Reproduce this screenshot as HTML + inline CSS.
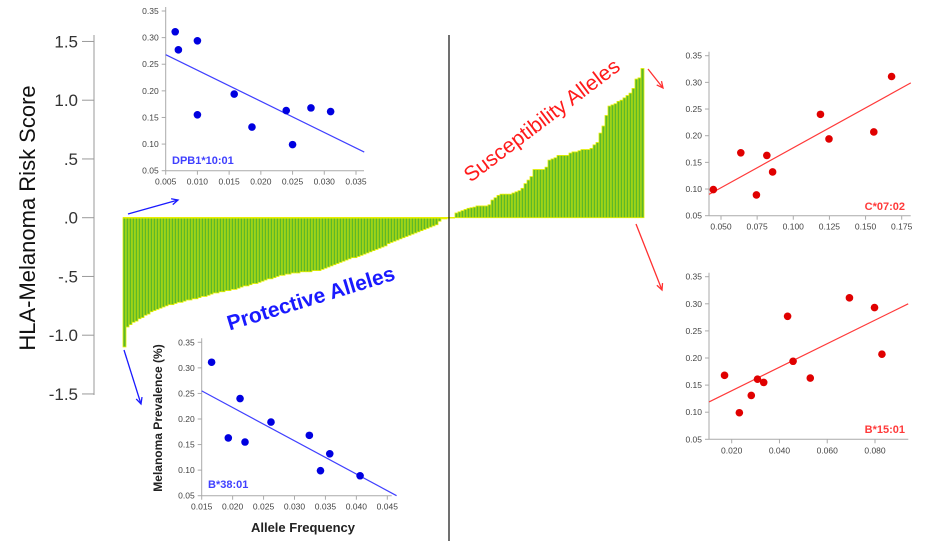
<!DOCTYPE html>
<html><head><meta charset="utf-8"><style>
html,body{margin:0;padding:0;background:#fff;}
svg{display:block;font-family:"Liberation Sans",sans-serif;}
</style></head><body>
<svg id="c" width="934" height="548" viewBox="0 0 934 548"></svg>
<script>
const negScores=[-1.10,-0.93,-0.91,-0.89,-0.88,-0.86,-0.85,-0.83,-0.82,-0.80,-0.79,-0.78,-0.77,-0.76,-0.75,-0.74,-0.74,-0.73,-0.72,-0.72,-0.71,-0.70,-0.70,-0.69,-0.69,-0.68,-0.67,-0.67,-0.66,-0.65,-0.64,-0.64,-0.63,-0.63,-0.62,-0.62,-0.61,-0.61,-0.60,-0.59,-0.58,-0.58,-0.57,-0.56,-0.56,-0.55,-0.54,-0.53,-0.52,-0.52,-0.51,-0.50,-0.49,-0.49,-0.48,-0.48,-0.47,-0.47,-0.47,-0.46,-0.46,-0.46,-0.46,-0.45,-0.45,-0.45,-0.44,-0.43,-0.42,-0.41,-0.40,-0.39,-0.38,-0.37,-0.36,-0.35,-0.34,-0.34,-0.33,-0.32,-0.31,-0.30,-0.29,-0.28,-0.27,-0.26,-0.25,-0.24,-0.22,-0.21,-0.20,-0.19,-0.18,-0.17,-0.16,-0.15,-0.14,-0.13,-0.12,-0.11,-0.10,-0.09,-0.08,-0.07,-0.06,-0.03,-0.01,-0.01];
const posScores=[0.04,0.05,0.06,0.07,0.08,0.085,0.09,0.10,0.10,0.10,0.10,0.11,0.15,0.17,0.19,0.20,0.20,0.20,0.20,0.21,0.22,0.23,0.25,0.29,0.32,0.35,0.41,0.41,0.41,0.41,0.43,0.49,0.50,0.51,0.53,0.53,0.53,0.53,0.55,0.56,0.56,0.57,0.58,0.58,0.58,0.59,0.62,0.64,0.72,0.78,0.87,0.95,0.96,0.97,0.99,1.00,1.02,1.04,1.06,1.10,1.18,1.19,1.27];
const mainTicks=[1.5,1.0,0.5,0,-0.5,-1.0,-1.5];
const mainTickLabels=["1.5","1.0",".5",".0","-.5","-1.0","-1.5"];

const dpbX=[0.0065,0.007,0.010,0.010,0.0158,0.0186,0.024,0.025,0.0279,0.031];
const dpbY=[0.311,0.277,0.294,0.155,0.194,0.132,0.163,0.099,0.168,0.161];
const dpbXTicks=["0.005","0.010","0.015","0.020","0.025","0.030","0.035"];
const b38X=[0.0166,0.0193,0.0212,0.022,0.0262,0.0324,0.0342,0.0357,0.0406];
const b38Y=[0.311,0.163,0.240,0.155,0.194,0.168,0.099,0.132,0.089];
const b38XTicks=["0.015","0.020","0.025","0.030","0.035","0.040","0.045"];
const c07X=[0.0447,0.0637,0.0745,0.0817,0.0857,0.1188,0.1247,0.1557,0.168];
const c07Y=[0.099,0.168,0.089,0.163,0.132,0.240,0.194,0.207,0.311];
const c07XTicks=["0.050","0.075","0.100","0.125","0.150","0.175"];
const b15X=[0.017,0.0232,0.0282,0.0308,0.0334,0.0434,0.0457,0.0529,0.0693,0.0798,0.0829];
const b15Y=[0.168,0.099,0.131,0.161,0.155,0.277,0.194,0.163,0.311,0.293,0.207];
const b15XTicks=["0.020","0.040","0.060","0.080"];
const yTicks=["0.35","0.30","0.25","0.20","0.15","0.10","0.05"];

const svg=document.getElementById('c');
const NS='http://www.w3.org/2000/svg';
function mk(tag,attrs,parent,text){const e=document.createElementNS(NS,tag);for(const k in attrs)e.setAttribute(k,attrs[k]);if(text!==undefined)e.textContent=text;(parent||svg).appendChild(e);return e;}

// main axis
const y0=217.7, ppu=117.5;
const ys=v=>y0-v*ppu;
let e=mk('line',{x1:94,y1:35,x2:94,y2:395,stroke:'#999','stroke-width':1});


mainTicks.forEach((t,i)=>{
  let l=mk('line',{x1:82,y1:ys(t),x2:94,y2:ys(t),stroke:'#999'});
  
  
  let tx=mk('text',{x:78,y:ys(t)+6,'text-anchor':'end','font-size':17,fill:'#333'},svg,mainTickLabels[i]);
  
  
});
e=mk('text',{x:0,y:0,transform:'translate(35,218) rotate(-90)','text-anchor':'middle','font-size':22,fill:'#111'},svg,'HLA-Melanoma Risk Score');



// bars
const bw=3;
negScores.forEach((v,i)=>{
  const b=mk('rect',{x:123+i*bw,y:y0,width:bw,height:-v*ppu,fill:'#5cb82a',stroke:'#e8f000','stroke-width':0.8});
  
  
});
posScores.forEach((v,i)=>{
  const b=mk('rect',{x:455+i*bw,y:ys(v),width:bw,height:v*ppu,fill:'#5cb82a',stroke:'#e8f000','stroke-width':0.8});
  
  
});
e=mk('line',{x1:123,y1:y0,x2:455,y2:y0,stroke:'#e8f000','stroke-width':1.5});



// divider
e=mk('line',{x1:449,y1:35,x2:449,y2:541,stroke:'#111','stroke-width':1.2});



// labels
e=mk('text',{x:0,y:0,transform:'translate(546,126) rotate(-37)','text-anchor':'middle','font-size':21,fill:'#ff1a1a'},svg,'Susceptibility Alleles');


e=mk('text',{x:0,y:0,transform:'translate(313,305) rotate(-17)','text-anchor':'middle','font-size':21,'font-weight':'bold',fill:'#1a1aff'},svg,'Protective Alleles');



// arrows
function arrow(x1,y1,x2,y2,col,name){
  const g=mk('g',{});
  
  
  mk('line',{x1,y1,x2,y2,stroke:col,'stroke-width':1.3},g);
  const a=Math.atan2(y2-y1,x2-x1),L=7;
  mk('polyline',{points:`${x2-L*Math.cos(a-0.45)},${y2-L*Math.sin(a-0.45)} ${x2},${y2} ${x2-L*Math.cos(a+0.45)},${y2-L*Math.sin(a+0.45)}`,fill:'none',stroke:col,'stroke-width':1.3},g);
}
arrow(128,214,178,200,'#1a1aff','arrow-to-dpb1');
arrow(124,350,141,404,'#1a1aff','arrow-to-b3801');
arrow(648,69,663,88,'#ff3030','arrow-to-c0702');
arrow(636,224,662,290,'#ff3030','arrow-to-b1501');

// inset scatter
function inset(o){
  const g=mk('g',{});
  
  
  const xs=v=>o.px0+(v-o.x0)/(o.x1-o.x0)*(o.px1-o.px0);
  const yv=v=>o.py0+(v-0.35)/(0.05-0.35)*(o.py1-o.py0);
  let ax=mk('line',{x1:o.ax,y1:o.py0-4,x2:o.ax,y2:o.py1,stroke:'#aaa'},g);
  
  
  ax=mk('line',{x1:o.ax,y1:o.py1,x2:o.axEnd,y2:o.py1,stroke:'#aaa'},g);
  
  
  yTicks.forEach(t=>{
    const y=yv(parseFloat(t));
    mk('line',{x1:o.ax-4,y1:y,x2:o.ax,y2:y,stroke:'#aaa'},g);
    const tx=mk('text',{x:o.ax-7,y:y+3,'text-anchor':'end','font-size':8.5,fill:'#444'},g,t);
    
    
  });
  o.xt.forEach(t=>{
    const x=xs(parseFloat(t));
    mk('line',{x1:x,y1:o.py1,x2:x,y2:o.py1+4,stroke:'#aaa'},g);
    const tx=mk('text',{x:x,y:o.py1+14,'text-anchor':'middle','font-size':8.5,fill:'#444'},g,t);
    
    
  });
  const fl=mk('line',{x1:xs(o.fit[0]),y1:yv(o.fit[1]),x2:xs(o.fit[2]),y2:yv(o.fit[3]),stroke:o.lc,'stroke-width':1.2},g);
  
  
  o.X.forEach((v,i)=>{
    const p=mk('circle',{cx:xs(v),cy:yv(o.Y[i]),r:3.8,fill:o.pc},g);
    
    
  });
  const lb=mk('text',{x:o.lx,y:o.ly,'text-anchor':o.la,'font-size':11,'font-weight':'bold',fill:o.lc},g,o.label);
  
  
}
inset({name:'inset-dpb1-1001',X:dpbX,Y:dpbY,xt:dpbXTicks,x0:0.005,x1:0.035,px0:165.7,px1:356,py0:11,py1:170.7,ax:165.7,axEnd:364,fit:[0.005,0.268,0.0363,0.085],lc:'#4040ff',pc:'#0000e0',label:'DPB1*10:01',lx:172,ly:164,la:'start'});
inset({name:'inset-b3801',X:b38X,Y:b38Y,xt:b38XTicks,x0:0.015,x1:0.045,px0:201.7,px1:387.3,py0:342.3,py1:495.7,ax:201.7,axEnd:391.7,fit:[0.015,0.255,0.0465,0.05],lc:'#4040ff',pc:'#0000e0',label:'B*38:01',lx:208,ly:488,la:'start'});
inset({name:'inset-c0702',X:c07X,Y:c07Y,xt:c07XTicks,x0:0.05,x1:0.175,px0:721,px1:901.7,py0:55.7,py1:215.7,ax:709,axEnd:910.7,fit:[0.0417,0.09,0.1813,0.299],lc:'#ff3a3a',pc:'#e00000',label:'C*07:02',lx:905,ly:210,la:'end'});
inset({name:'inset-b1501',X:b15X,Y:b15Y,xt:b15XTicks,x0:0.02,x1:0.08,px0:731.7,px1:875,py0:276.7,py1:439.3,ax:709,axEnd:908.3,fit:[0.0105,0.119,0.0939,0.300],lc:'#ff3a3a',pc:'#e00000',label:'B*15:01',lx:905,ly:433,la:'end'});

e=mk('text',{x:0,y:0,transform:'translate(162,418) rotate(-90)','text-anchor':'middle','font-size':12,'font-weight':'bold',fill:'#222'},svg,'Melanoma Prevalence (%)');


e=mk('text',{x:303,y:532,'text-anchor':'middle','font-size':13,'font-weight':'bold',fill:'#222'},svg,'Allele Frequency');


</script>
</body></html>
